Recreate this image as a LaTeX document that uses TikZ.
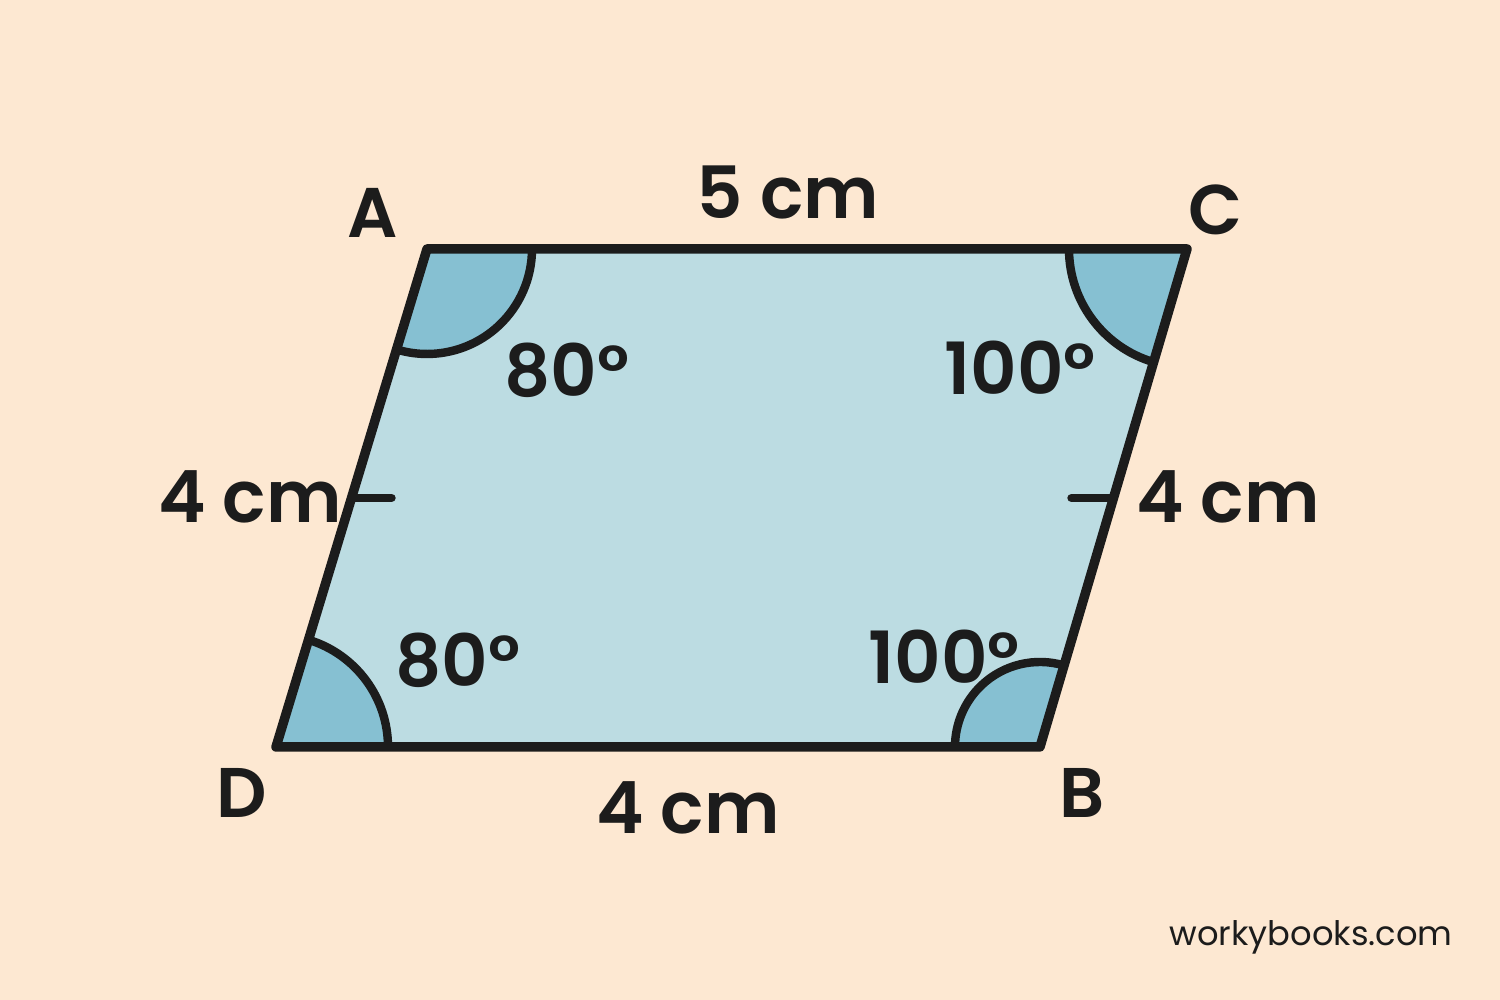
\documentclass[tikz,border=0pt]{standalone}
\usepackage{fontspec}
\setmainfont{Poppins}[BoldFont={Poppins SemiBold}]
\usetikzlibrary{angles,calc}
\definecolor{paper}{RGB}{253,232,210}
\definecolor{inside}{RGB}{188,220,226}
\definecolor{corner}{RGB}{134,192,210}
\definecolor{ink}{RGB}{28,28,28}

\begin{document}
\begin{tikzpicture}[every path/.style={line join=round},
                    lbl/.style={font=\bfseries\fontsize{20.5}{20.5}\selectfont,text=ink},
                    vtx/.style={font=\bfseries\fontsize{20}{20}\selectfont,text=ink},
                    cornerfill/.style={draw=ink,line width=2.4pt,fill=corner}]
  \fill[paper] (0,0) rectangle (15,10);
  \useasboundingbox (0,0) rectangle (15,10);
  \coordinate (a) at (4.27,7.51);
  \coordinate (c) at (11.87,7.51);
  \coordinate (b) at (10.40,2.53);
  \coordinate (d) at (2.76,2.53);
  \fill[inside] (a) -- (c) -- (b) -- (d) -- cycle;
  % corner angles
  \pic[cornerfill,angle radius=1.05cm] {angle=d--a--c};
  \pic[cornerfill,angle radius=1.18cm] {angle=a--c--b};
  \pic[cornerfill,angle radius=0.85cm] {angle=c--b--d};
  \pic[cornerfill,angle radius=1.12cm] {angle=b--d--a};
  \draw[ink,line width=2.7pt] (a) -- (c) -- (b) -- (d) -- cycle;
  % equal sides
  \coordinate (mad) at ($(a)!0.5!(d)$);
  \coordinate (mcb) at ($(c)!0.5!(b)$);
  \draw[ink,line width=2.4pt,line cap=round] (mad) -- ++(0.40,0);
  \draw[ink,line width=2.4pt,line cap=round] (mcb) -- ++(-0.42,0);
  \node[vtx] (la) at (3.73,7.87) {A};
  \node[vtx] (lc) at (12.15,7.90) {C};
  \node[vtx] (lb) at (10.82,2.07) {B};
  \node[vtx] (ld) at (2.42,2.07) {D};
  \node[lbl] (top) at (7.88,8.07) {5 cm};
  \node[lbl] (bot) at (6.88,1.92) {4 cm};
  \node[lbl] (lft) at (2.50,5.03) {4 cm};
  \node[lbl] (rgt) at (12.28,5.03) {4 cm};
  \node[lbl] (ta) at (5.67,6.30) {80°};
  \node[lbl] (tc) at (10.20,6.32) {100°};
  \node[lbl] (bd) at (4.58,3.40) {80°};
  \node[lbl] (bb) at (9.44,3.43) {100°};
  \node[font=\fontsize{9.6}{9.6}\selectfont,text=ink] (site) at (13.11,0.63) {workybooks.com};
\end{tikzpicture}
\end{document}
